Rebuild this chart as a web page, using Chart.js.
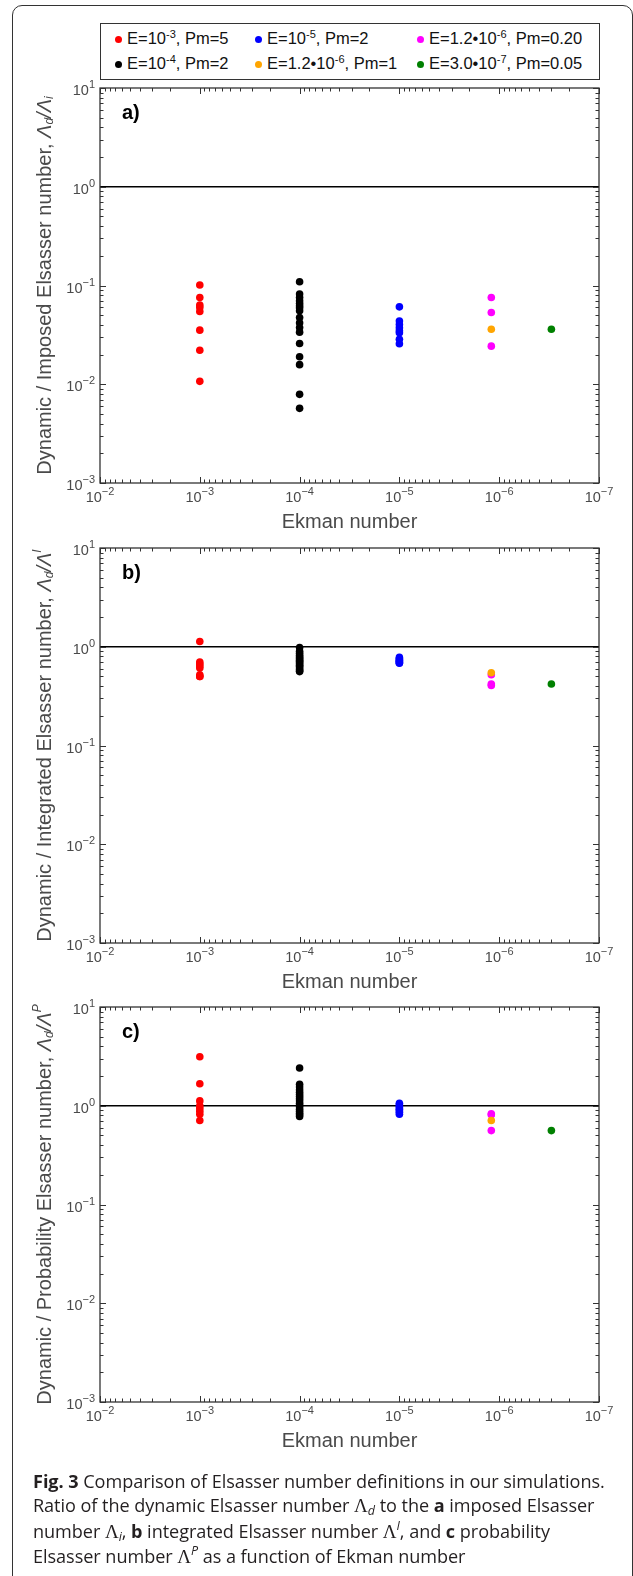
<!DOCTYPE html>
<html>
<head>
<meta charset="utf-8">
<script src="https://cdn.jsdelivr.net/npm/chart.js@4.4.1/dist/chart.umd.min.js"></script>
<style>
  html, body { margin:0; padding:0; background:#fff; }
  body { width:633px; height:1576px; position:relative; overflow:hidden; font-family:"Liberation Sans", Arial, sans-serif; }
  #frame { position:absolute; left:12px; top:5px; width:621px; height:1600px; box-sizing:border-box; border:1px solid #333; border-radius:10px; }
  canvas { position:absolute; left:0; }
  #legend { position:absolute; left:100px; top:23px; width:500px; height:57px; box-sizing:border-box; border:1px solid #333; background:#fff; }
  .lg { position:absolute; font-size:16.5px; color:#111; white-space:nowrap; line-height:18px; }
  .lg sup { font-size:11px; vertical-align:6px; line-height:0; }
  .dot { position:absolute; width:7px; height:7px; border-radius:50%; }
  #caption { position:absolute; left:33px; top:1469px; width:600px; font-family:"Open Sans", "Noto Sans", sans-serif; font-size:18.1px; line-height:24.4px; color:#231f20; white-space:nowrap; letter-spacing:-0.05px; }
  #caption .L { font-family:"Liberation Serif", "DejaVu Serif", serif; font-size:19px; }
  #caption sub, #caption sup { font-size:12.5px; font-style:italic; line-height:0; }
  #caption sub { vertical-align:-3px; }
  #caption sup { vertical-align:8px; }
</style>
</head>
<body>
<div id="frame"></div>
<canvas id="cA" width="633" height="545" style="top:0px"></canvas>
<canvas id="cB" width="633" height="545" style="top:460px"></canvas>
<canvas id="cC" width="633" height="545" style="top:919px"></canvas>
<div id="legend"></div>
<div id="caption">
<b>Fig. 3</b> Comparison of Elsasser number definitions in our simulations.<br>
Ratio of the dynamic Elsasser number <span class="L">Λ</span><sub>d</sub> to the <b>a</b> imposed Elsasser<br>
number <span class="L">Λ</span><sub>i</sub>, <b>b</b> integrated Elsasser number <span class="L">Λ</span><sup>I</sup>, and <b>c</b> probability<br>
Elsasser number <span class="L">Λ</span><sup>P</sup> as a function of Ekman number
</div>
<script>
// ---------------- DATA ----------------
const seriesLabels = ["E=10^-3, Pm=5", "E=10^-4, Pm=2", "E=10^-5, Pm=2", "E=1.2•10^-6, Pm=1", "E=1.2•10^-6, Pm=0.20", "E=3.0•10^-7, Pm=0.05"];
const seriesColors = ["#ff0000", "#000000", "#0000ff", "#ffa500", "#ff00ff", "#008000"];
const ekmanValues  = [1e-3, 1e-4, 1e-5, 1.2e-6, 1.2e-6, 3.0e-7];
const legendOrder  = [0, 2, 4, 1, 3, 5];

const xTickExponents = [-2, -3, -4, -5, -6, -7];
const yTickExponents = [1, 0, -1, -2, -3];
const panelLetters = ["a)", "b)", "c)"];
const xAxisTitle = "Ekman number";

// panel a: dynamic / imposed
const aRed     = [0.101, 0.0757, 0.0633, 0.060, 0.0546, 0.0353, 0.0221, 0.0107];
const aBlack   = [0.109, 0.0818, 0.0757, 0.070, 0.0658, 0.0623, 0.0595, 0.0554, 0.0475, 0.0419, 0.0376, 0.0337, 0.0259, 0.019, 0.0158, 0.0079, 0.0057];
const aBlue    = [0.0608, 0.0436, 0.0403, 0.0373, 0.0348, 0.0332, 0.0286, 0.0257];
const aOrange  = [0.0361];
const aMagenta = [0.0757, 0.0533, 0.0243];
const aGreen   = [0.0361];

// panel b: dynamic / integrated
const bRed     = [1.13, 0.70, 0.67, 0.64, 0.61, 0.52, 0.50, 0.50];
const bBlack   = [0.98, 0.90, 0.86, 0.82, 0.79, 0.77, 0.75, 0.73, 0.71, 0.69, 0.67, 0.65, 0.63, 0.61, 0.59, 0.57, 0.56];
const bBlue    = [0.78, 0.76, 0.74, 0.73, 0.71, 0.70, 0.69, 0.68];
const bOrange  = [0.545];
const bMagenta = [0.52, 0.42, 0.405];
const bGreen   = [0.419];

// panel c: dynamic / probability
const cRed     = [3.14, 1.67, 1.12, 1.0, 0.94, 0.88, 0.82, 0.71];
const cBlack   = [2.41, 1.65, 1.55, 1.45, 1.37, 1.30, 1.24, 1.18, 1.12, 1.06, 1.01, 0.97, 0.92, 0.88, 0.84, 0.81, 0.78];
const cBlue    = [1.06, 1.02, 0.98, 0.95, 0.92, 0.89, 0.86, 0.82];
const cOrange  = [0.71];
const cMagenta = [0.83, 0.81, 0.56];
const cGreen   = [0.56];

const referenceLevel = 1;

// ---------------- LEGEND (HTML) ----------------
(function buildLegend(){
  const lg = document.getElementById('legend');
  const colX = [18, 158, 320];   // marker centers relative to legend box
  const rowY = [15, 40];
  legendOrder.forEach((si, k) => {
    const r = Math.floor(k / 3), c = k % 3;
    const d = document.createElement('div');
    d.className = 'dot';
    d.style.background = seriesColors[si];
    d.style.left = (colX[c] - 3.5 - 1) + 'px';
    d.style.top = (rowY[r] - 3.5) + 'px';
    lg.appendChild(d);
    const t = document.createElement('div');
    t.className = 'lg';
    t.innerHTML = seriesLabels[si].replace(/\^(-?\d+)/g, '<sup>$1</sup>');
    t.style.left = (colX[c] + 8) + 'px';
    t.style.top = (rowY[r] - 10) + 'px';
    lg.appendChild(t);
  });
})();

// ---------------- PLUGIN: frame, ticks, labels, titles ----------------
const SANS = '"Liberation Sans", Arial, sans-serif';
function drawPieces(ctx, pieces, x, y, align) {
  let total = 0;
  pieces.forEach(p => { ctx.font = p.font; p.w = ctx.measureText(p.t).width; total += p.w; });
  let cx = align === 'center' ? x - total / 2 : (align === 'right' ? x - total : x);
  pieces.forEach(p => { ctx.font = p.font; ctx.fillText(p.t, cx, y + (p.dy || 0)); cx += p.w; });
}
function decadeLabel(e) {
  return [{t:'10', font:'14.5px ' + SANS}, {t: String(e).replace('-', '\u2212'), font:'11px ' + SANS, dy:-6}];
}
const axesPlugin = {
  id: 'axesDecor',
  afterDraw(chart, args, opts) {
    const {ctx, chartArea: a} = chart;
    const xs = chart.scales.x, ys = chart.scales.y;
    ctx.save();
    ctx.strokeStyle = '#333';
    ctx.lineWidth = 1.3;
    ctx.strokeRect(a.left, a.top, a.right - a.left, a.bottom - a.top);
    ctx.lineWidth = 1;
    const seg = (x1, y1, x2, y2) => { ctx.beginPath(); ctx.moveTo(x1, y1); ctx.lineTo(x2, y2); ctx.stroke(); };
    const xe = xTickExponents.slice().sort((p, q) => p - q);
    for (let i = 0; i < xe.length; i++) {
      for (let m = 1; m <= 9; m++) {
        if (m > 1 && i === xe.length - 1) break;
        const v = m * Math.pow(10, xe[i]);
        const px = Math.round(xs.getPixelForValue(v)) + 0.5;
        const L = m === 1 ? 6 : 3.5;
        seg(px, a.bottom, px, a.bottom - L);
        seg(px, a.top, px, a.top + L);
      }
    }
    const ye = yTickExponents.slice().sort((p, q) => p - q);
    for (let i = 0; i < ye.length; i++) {
      for (let m = 1; m <= 9; m++) {
        if (m > 1 && i === ye.length - 1) break;
        const v = m * Math.pow(10, ye[i]);
        const py = Math.round(ys.getPixelForValue(v)) + 0.5;
        const L = m === 1 ? 6 : 3.5;
        seg(a.left, py, a.left + L, py);
        seg(a.right, py, a.right - L, py);
      }
    }
    ctx.fillStyle = '#4a4a4a';
    ctx.textBaseline = 'middle';
    ctx.textAlign = 'left';
    xTickExponents.forEach(e => {
      const px = xs.getPixelForValue(Math.pow(10, e));
      drawPieces(ctx, decadeLabel(e), px, a.bottom + 15, 'center');
    });
    yTickExponents.forEach(e => {
      const py = ys.getPixelForValue(Math.pow(10, e));
      drawPieces(ctx, decadeLabel(e), a.left - 5, py + 3, 'right');
    });
    ctx.font = '20px ' + SANS;
    ctx.textAlign = 'center';
    ctx.fillText(xAxisTitle, (a.left + a.right) / 2, a.bottom + 39);
    ctx.save();
    ctx.translate(45, (a.top + a.bottom) / 2);
    ctx.rotate(-Math.PI / 2);
    ctx.textAlign = 'left';
    drawPieces(ctx, opts.yTitle, 0, 0, 'center');
    ctx.restore();
    ctx.fillStyle = '#000';
    ctx.font = 'bold 20px ' + SANS;
    ctx.textAlign = 'left';
    ctx.textBaseline = 'alphabetic';
    ctx.fillText(opts.letter, a.left + 22, a.top + 31);
    ctx.restore();
  }
};

function yTitlePieces(name, tail) {
  const f = '20px ' + SANS, fi = 'italic 20px ' + SANS, fs = 'italic 12px ' + SANS;
  return [
    {t: 'Dynamic / ' + name + ' Elsasser number, ', font: f},
    {t: 'Λ', font: fi},
    {t: 'd', font: fs, dy: 5},
    {t: '/Λ', font: fi},
    tail
  ];
}

function makePanel(canvasId, vals, letter, yTitle) {
  const datasets = vals.map((v, i) => ({
    label: seriesLabels[i],
    data: v.map(y => ({x: ekmanValues[i], y: y})),
    backgroundColor: seriesColors[i],
    borderWidth: 0,
    pointRadius: 3.8,
    pointHoverRadius: 3.8,
    pointStyle: 'circle'
  }));
  datasets.push({
    label: 'ratio = 1',
    data: [{x: Math.pow(10, Math.max(...xTickExponents)), y: referenceLevel}, {x: Math.pow(10, Math.min(...xTickExponents)), y: referenceLevel}],
    showLine: true,
    borderColor: '#000',
    borderWidth: 1.4,
    pointRadius: 0
  });
  return new Chart(document.getElementById(canvasId), {
    type: 'scatter',
    data: {datasets},
    options: {
      responsive: false,
      animation: false,
      devicePixelRatio: 1,
      layout: {padding: {left: 100, right: 34, top: 88, bottom: 62}},
      plugins: {
        legend: {display: false},
        tooltip: {enabled: false},
        axesDecor: {letter, yTitle}
      },
      scales: {
        x: {type: 'logarithmic', reverse: true,
            min: Math.pow(10, Math.min(...xTickExponents)), max: Math.pow(10, Math.max(...xTickExponents)),
            ticks: {display: false}, grid: {display: false, drawTicks: false}, border: {display: false}},
        y: {type: 'logarithmic',
            min: Math.pow(10, Math.min(...yTickExponents)), max: Math.pow(10, Math.max(...yTickExponents)),
            ticks: {display: false}, grid: {display: false, drawTicks: false}, border: {display: false}}
      }
    },
    plugins: [axesPlugin]
  });
}

makePanel('cA', [aRed, aBlack, aBlue, aOrange, aMagenta, aGreen], panelLetters[0],
  yTitlePieces('Imposed', {t: 'i', font: 'italic 12px ' + SANS, dy: 5}));
makePanel('cB', [bRed, bBlack, bBlue, bOrange, bMagenta, bGreen], panelLetters[1],
  yTitlePieces('Integrated', {t: 'I', font: 'italic 12px ' + SANS, dy: -7}));
makePanel('cC', [cRed, cBlack, cBlue, cOrange, cMagenta, cGreen], panelLetters[2],
  yTitlePieces('Probability', {t: 'P', font: 'italic 12px ' + SANS, dy: -7}));
</script>
</body>
</html>
